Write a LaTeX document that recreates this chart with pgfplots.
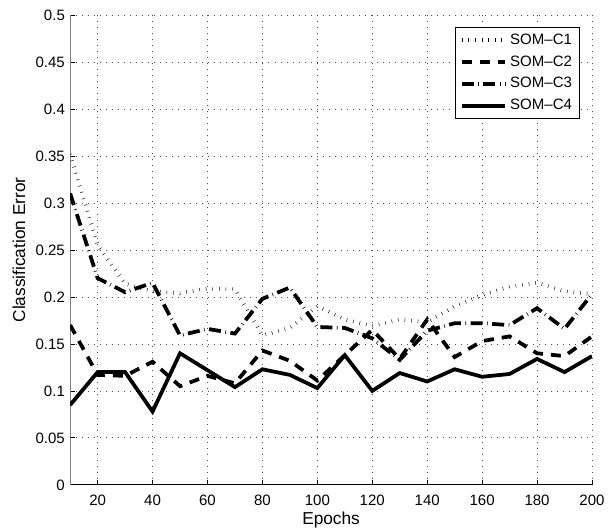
\documentclass[border=0pt]{standalone}
\usepackage{fontspec}
\setmainfont{Liberation Sans}
\usepackage{pgfplots}
\usepackage{pgfplotstable}
\pgfplotsset{compat=1.18}

\pgfplotstableread{
epoch c1    c2    c3    c4
10    0.352 0.170 0.310 0.085
20    0.255 0.117 0.220 0.120
30    0.214 0.116 0.205 0.120
40    0.206 0.131 0.215 0.078
50    0.204 0.105 0.159 0.140
60    0.209 0.116 0.166 0.122
70    0.208 0.108 0.161 0.104
80    0.159 0.143 0.198 0.123
90    0.167 0.132 0.210 0.117
100   0.190 0.111 0.168 0.103
110   0.176 0.138 0.167 0.138
120   0.169 0.165 0.156 0.100
130   0.176 0.134 0.133 0.119
140   0.173 0.176 0.164 0.110
150   0.190 0.136 0.172 0.123
160   0.202 0.153 0.172 0.115
170   0.211 0.158 0.170 0.118
180   0.215 0.140 0.188 0.134
190   0.206 0.137 0.166 0.120
200   0.203 0.158 0.203 0.137
}\errtable

\begin{document}
\begin{tikzpicture}
\begin{axis}[
    at={(0,0)}, anchor=south west,
    width=347.3pt, height=312.7pt,
    scale only axis,
    xmin=10, xmax=200, ymin=0, ymax=0.5,
    xtick={20,40,...,200},
    ytick={0,0.05,...,0.5},
    axis lines*=left,
    x axis line style={black, line width=0.6pt},
    y axis line style={gray, line width=0.8pt},
    tick align=inside,
    major tick length=3.3pt,
    tick style={black, line width=0.5pt},
    grid=major,
    major grid style={black!70, line width=0.5pt, dash pattern=on 0.6pt off 3.4pt},
    /pgf/number format/assume math mode=true,
    yticklabel style={/pgf/number format/fixed, /pgf/number format/precision=2},
    ticklabel style={font=\fontsize{10}{12}\selectfont},
    xticklabel style={yshift=-3pt},
    xlabel={Epochs},
    ylabel={Classification Error},
    label style={font=\fontsize{11.5}{13}\selectfont},
    xlabel style={yshift=2.5pt},
    legend style={at={(rel axis cs:0.977,0.975)}, anchor=north east,
        draw=black, line width=0.6pt, fill=white,
        font=\fontsize{10}{12}\selectfont,
        inner xsep=3pt, inner ysep=2.5pt, row sep=2pt,
        legend cell align=left},
    legend image code/.code={\draw[#1] (0pt,0pt) -- (29pt,0pt);},
    every axis plot/.append style={line width=2.5pt, black},
]
\addplot[dash pattern=on 0.3pt off 4.1pt] table[x=epoch, y=c1] {\errtable};
\addplot[dash pattern=on 6.7pt off 5.3pt] table[x=epoch, y=c2] {\errtable};
\addplot[dash pattern=on 8pt off 3pt on 0.4pt off 3pt] table[x=epoch, y=c3] {\errtable};
\addplot[solid] table[x=epoch, y=c4] {\errtable};
\legend{SOM--C1, SOM--C2, SOM--C3, SOM--C4}
\end{axis}
\pgfresetboundingbox
\path[use as bounding box] (-46.7pt,-30.7pt) rectangle (359.3pt,322.7pt);
\end{tikzpicture}
\end{document}
